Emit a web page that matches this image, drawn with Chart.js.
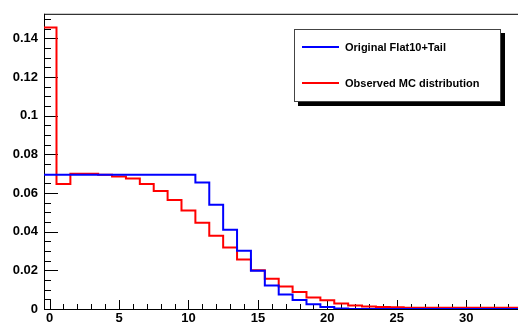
<!DOCTYPE html>
<html><head><meta charset="utf-8">
<script src="https://cdn.jsdelivr.net/npm/chart.js@4/dist/chart.umd.min.js"></script>
<style>
html,body{margin:0;padding:0;background:#fff;}
#wrap{position:relative;width:518px;height:325px;overflow:hidden;}
#legend{position:absolute;left:294px;top:29px;width:205px;height:71px;border:1px solid #444;background:#fff;box-shadow:4px 4px 0 #000;font:bold 11px 'Liberation Sans',Arial,sans-serif;color:#000;}
.item{position:absolute;left:7px;height:14px;line-height:14px;width:190px;}
.swatch{position:absolute;left:0;top:6px;width:37px;height:2px;}
.lbl{position:absolute;left:43px;top:0;white-space:nowrap;}
</style></head><body>
<div id="wrap"><canvas id="c" width="518" height="325"></canvas><div id="legend"></div></div>
<script>
// bin centres (integers), bin width 1
const binCenters = [0,1,2,3,4,5,6,7,8,9,10,11,12,13,14,15,16,17,18,19,20,21,22,23,24,25,26,27,28,29,30,31,32,33,34];
const originalFlat10Tail = [0.0695,0.0695,0.0695,0.0695,0.0695,0.0695,0.0695,0.0695,0.0695,0.0695,0.0695,
  0.0654,0.0539,0.0410,0.0301,0.0198,0.0122,0.0075,0.0046,0.0024,0.0010,0.0003,
  0,0,0,0,0,0,0,0,0,0,0,0,0];
const observedMC = [0.1456,0.0647,0.0700,0.0700,0.0694,0.0685,0.0675,0.0646,0.0611,0.0564,0.0510,
  0.0446,0.0379,0.0318,0.0256,0.0200,0.0156,0.0117,0.0088,0.0059,0.0045,0.0028,
  0.0018,0.0013,0.0010,0.0009,0.0007,0.0007,0.0007,0.0007,0.0007,0.0007,0.0007,0.0007,0.0007];
const xTickValues = [0,5,10,15,20,25,30];
const yTickValues = [0,0.02,0.04,0.06,0.08,0.1,0.12,0.14];
const seriesNames = ['Original Flat10+Tail','Observed MC distribution'];
const seriesColors = ['#0000ff','#ff0000'];

function histPoints(vals){
  const pts = binCenters.map((c,i)=>({x:c-0.5,y:vals[i]}));
  const last = binCenters.length-1;
  pts.push({x:binCenters[last]+0.5,y:vals[last]});
  return pts;
}

const frame = {
  id:'frame',
  beforeDatasetsDraw(chart){
    const {ctx, chartArea:a} = chart; const x = chart.scales.x, y = chart.scales.y;
    ctx.save(); ctx.strokeStyle='#000'; ctx.lineWidth=1; ctx.beginPath();
    ctx.moveTo(a.left, a.top+0.5); ctx.lineTo(a.right, a.top+0.5);
    ctx.moveTo(a.left+0.5, a.top); ctx.lineTo(a.left+0.5, a.bottom+1);
    ctx.moveTo(a.left, a.bottom+0.5); ctx.lineTo(a.right, a.bottom+0.5);
    for (let k=0; k*0.005<=y.max+1e-9; k++){
      const v=k*0.005; const py=Math.round(y.getPixelForValue(v))+0.5;
      const major = k%4===0;
      ctx.moveTo(a.left, py); ctx.lineTo(a.left+(major?14:7), py);
    }
    for (let v=0; v<=x.max; v++){
      const px=Math.round(x.getPixelForValue(v))+0.5;
      const major = v%5===0;
      ctx.moveTo(px, a.bottom); ctx.lineTo(px, a.bottom-(major?9:5));
    }
    ctx.stroke(); ctx.restore();
  }
};

const font = {family:"'Liberation Sans', Arial, sans-serif", weight:'bold', size:13};
new Chart(document.getElementById('c'), {
  type:'line',
  data:{datasets:[
    {label:seriesNames[0], data:histPoints(originalFlat10Tail), borderColor:seriesColors[0], borderWidth:2, stepped:true, pointRadius:0, fill:false},
    {label:seriesNames[1], data:histPoints(observedMC), borderColor:seriesColors[1], borderWidth:2, stepped:true, pointRadius:0, fill:false}
  ]},
  options:{
    responsive:false, animation:false, devicePixelRatio:1,
    layout:{padding:{top:8,left:0,right:0,bottom:0}},
    plugins:{legend:{display:false}, tooltip:{enabled:false}},
    scales:{
      x:{type:'linear', min:-0.4, max:33.73,
        grid:{display:false, drawTicks:false}, border:{display:false},
        ticks:{font, color:'#000', padding:2, maxRotation:0, autoSkip:false, callback:v=>String(v)},
        afterBuildTicks:s=>{s.ticks = xTickValues.map(v=>({value:v}));},
        afterFit:s=>{s.height=16;}
      },
      y:{type:'linear', min:0, max:0.1527,
        grid:{display:false, drawTicks:false}, border:{display:false},
        ticks:{font, color:'#000', padding:6, autoSkip:false, callback:v=>String(+v.toFixed(3))},
        afterBuildTicks:s=>{s.ticks = yTickValues.map(v=>({value:v}));},
        afterFit:s=>{s.width=44;}
      }
    }
  },
  plugins:[frame]
});

const lg = document.getElementById('legend');
const tops = [10, 46];
seriesNames.forEach((n,i)=>{
  const it = document.createElement('div'); it.className='item'; it.style.top=tops[i]+'px';
  const sw = document.createElement('div'); sw.className='swatch'; sw.style.background=seriesColors[i];
  const lb = document.createElement('div'); lb.className='lbl'; lb.textContent=n;
  it.appendChild(sw); it.appendChild(lb); lg.appendChild(it);
});
</script>
</body></html>
